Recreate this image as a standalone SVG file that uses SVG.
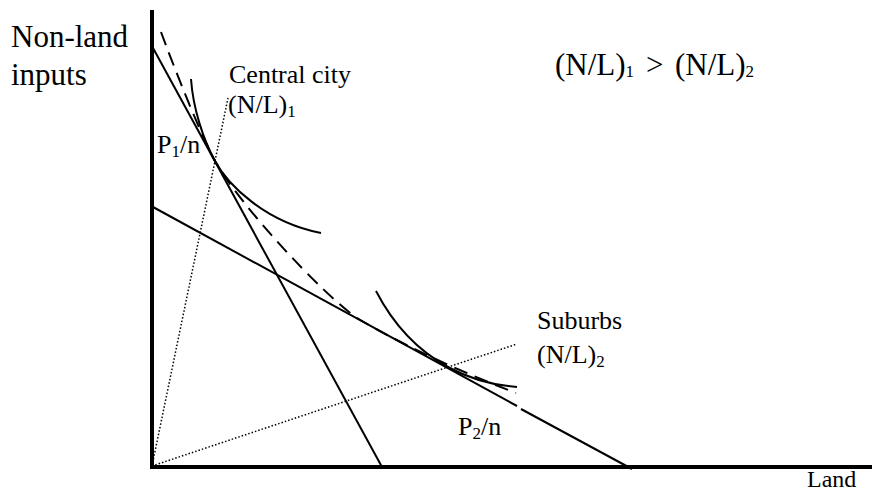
<svg xmlns="http://www.w3.org/2000/svg" width="872" height="497" viewBox="0 0 872 497">
<style>
text{font-family:"Liberation Serif","Times New Roman",serif;fill:#000;}
.lbl{font-size:26px;}
.big{font-size:31px;}
.sub{font-size:17px;}
.ln{fill:none;stroke:#000;stroke-width:2;}
.dash{fill:none;stroke:#000;stroke-width:2;stroke-dasharray:14 8;}
.dot{fill:none;stroke:#000;stroke-width:1.5;stroke-dasharray:1.5 2;}
.axis{fill:none;stroke:#000;stroke-width:4;}
</style>
<rect width="872" height="497" fill="#fff"/>
<g id="axes">
<line class="axis" x1="152" y1="10" x2="152" y2="469"/>
<line class="axis" x1="150" y1="467" x2="872" y2="467"/>
</g>
<g id="connectors">
<line class="ln" x1="153" y1="48" x2="382" y2="467"/>
<line class="ln" x1="153" y1="207" x2="517" y2="406"/>
<line class="ln" x1="521" y1="409" x2="632" y2="469"/>
<line class="dot" x1="152" y1="466" x2="228" y2="98"/>
<line class="dot" x1="152" y1="466" x2="517" y2="344"/>
<path class="dash" d="M161,32 C172,62 201,136 215,161 C240,205 320,292 357,318 C390,338 450,368 516,393"/>
</g>
<g id="central-curve">
<path class="ln" d="M191,79 C193,108 203,139 215,161 C228,185 265,222 321,233"/>
</g>
<g id="suburb-curve">
<path class="ln" d="M376,291 C390,318 413,348 448,367 C470,379 490,385 517,387"/>
</g>
<g id="label-yaxis">
<text class="big" x="11" y="47">Non-land</text>
<text class="big" x="11" y="85">inputs</text>
</g>
<g id="label-xaxis">
<text x="807" y="487" style="font-size:24px">Land</text>
</g>
<g id="label-central">
<text class="lbl" x="229" y="83">Central city</text>
<text class="lbl" x="228" y="113">(N/L)<tspan class="sub" dy="4">1</tspan></text>
</g>
<g id="label-p1">
<text class="lbl" x="157" y="153">P<tspan class="sub" dy="4">1</tspan><tspan dy="-4">/n</tspan></text>
</g>
<g id="label-suburbs">
<text class="lbl" x="537" y="329">Suburbs</text>
<text class="lbl" x="537" y="363">(N/L)<tspan class="sub" dy="4">2</tspan></text>
</g>
<g id="label-p2">
<text class="lbl" x="458" y="435">P<tspan class="sub" dy="4">2</tspan><tspan dy="-4">/n</tspan></text>
</g>
<g id="label-ratio">
<text class="big" x="555" y="75">(N/L)<tspan style="font-size:17px" dy="2">1</tspan><tspan x="646" dy="-2">&gt;</tspan><tspan x="675">(N/L)</tspan><tspan style="font-size:17px" dy="2">2</tspan></text>
</g>
</svg>
